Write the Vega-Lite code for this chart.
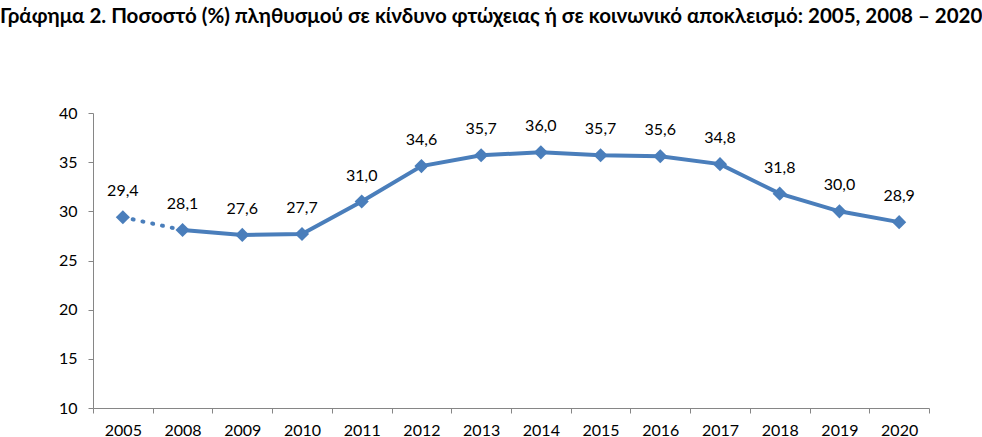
{
  "$schema": "https://vega.github.io/schema/vega-lite/v6.json",
  "width": 836,
  "height": 295,
  "autosize": {"type": "none"},
  "padding": {"left": 93, "top": 113, "right": 53, "bottom": 29},
  "title": {
    "text": "Γράφημα 2. Ποσοστό (%) πληθυσμού σε κίνδυνο φτώχειας ή σε κοινωνικό αποκλεισμό: 2005, 2008 – 2020",
    "anchor": "start",
    "frame": "group",
    "dx": -93,
    "offset": 78,
    "font": "Lato",
    "fontSize": 20.5,
    "fontWeight": "bold",
    "color": "black"
  },
  "config": {
    "locale": {
      "number": {"decimal": ",", "thousands": ".", "grouping": [3], "currency": ["", " €"]}
    },
    "view": {"stroke": null},
    "axis": {
      "labelFont": "Lato",
      "labelFontSize": 16,
      "labelColor": "black",
      "domainColor": "#868686",
      "tickColor": "#868686",
      "tickSize": 5,
      "grid": false,
      "title": null
    }
  },
  "data": {
    "values": [
      {"year": "2005", "value": 29.4},
      {"year": "2008", "value": 28.1},
      {"year": "2009", "value": 27.6},
      {"year": "2010", "value": 27.7},
      {"year": "2011", "value": 31.0},
      {"year": "2012", "value": 34.6},
      {"year": "2013", "value": 35.7},
      {"year": "2014", "value": 36.0},
      {"year": "2015", "value": 35.7},
      {"year": "2016", "value": 35.6},
      {"year": "2017", "value": 34.8},
      {"year": "2018", "value": 31.8},
      {"year": "2019", "value": 30.0},
      {"year": "2020", "value": 28.9}
    ]
  },
  "encoding": {
    "x": {
      "field": "year",
      "type": "ordinal",
      "sort": null,
      "scale": {"paddingInner": 0, "paddingOuter": 0},
      "axis": {"labelAngle": 0, "tickBand": "extent", "labelPadding": 9}
    },
    "y": {
      "field": "value",
      "type": "quantitative",
      "scale": {"domain": [10, 40], "nice": false, "zero": false},
      "axis": {"values": [10, 15, 20, 25, 30, 35, 40], "labelPadding": 11}
    }
  },
  "layer": [
    {
      "transform": [{"filter": "datum.year == '2005' || datum.year == '2008'"}],
      "mark": {"type": "line", "color": "#4A7EBB", "strokeWidth": 4, "strokeDash": [1, 9], "strokeCap": "round"}
    },
    {
      "transform": [{"filter": "datum.year != '2005'"}],
      "mark": {"type": "line", "color": "#4A7EBB", "strokeWidth": 4}
    },
    {
      "mark": {"type": "point", "shape": "diamond", "filled": true, "color": "#4A7EBB", "size": 200, "opacity": 1}
    },
    {
      "mark": {"type": "text", "dy": -26, "font": "Lato", "fontSize": 16, "color": "black"},
      "encoding": {"text": {"field": "value", "type": "quantitative", "format": ".1f"}}
    }
  ]
}
